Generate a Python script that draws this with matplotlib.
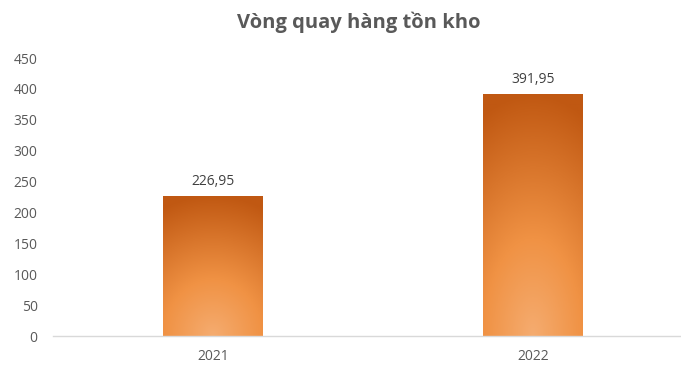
import numpy as np
import matplotlib
matplotlib.use("Agg")
import matplotlib.pyplot as plt
from matplotlib.colors import LinearSegmentedColormap

years = ["2021", "2022"]
values = [226.95, 391.95]
value_labels = ["226,95", "391,95"]
yticks = [0, 50, 100, 150, 200, 250, 300, 350, 400, 450]
title = "Vòng quay hàng tồn kho"

W, H = 681, 365
fig = plt.figure(figsize=(W / 100, H / 100), dpi=100)
ax = fig.add_axes([53 / W, (H - 336) / H, (680 - 53) / W, (336 - 58) / H])

x = np.arange(len(years))
bw = 100 / 320
bars = ax.bar(x, values, width=bw, color="none", edgecolor="none", zorder=2)

cmap = LinearSegmentedColormap.from_list(
    "og", [(0.0, (245/255, 172/255, 112/255)),
           (0.4, (240/255, 146/255, 68/255)),
           (1.0, (192/255, 88/255, 18/255))])
for b in bars:
    x0, y0 = b.get_x(), b.get_y()
    w, h = b.get_width(), b.get_height()
    u = np.linspace(-1, 1, 60)
    v = np.linspace(0, 1, 200)
    U, V = np.meshgrid(u, v)
    D = np.clip(np.sqrt((0.4 * U) ** 2 + V ** 2), 0, 1)
    im = ax.imshow(D, cmap=cmap, origin="lower", aspect="auto",
                   extent=[x0, x0 + w, y0, y0 + h], zorder=2, vmin=0, vmax=1)
    im.set_clip_path(b)

for xi, v, lab in zip(x, values, value_labels):
    ax.annotate(lab, (xi, v), xytext=(0, 5), textcoords="offset points",
                ha="center", va="bottom", fontsize=10, color="#404040",
                family=["Open Sans", "DejaVu Sans"])

ax.set_xlim(-0.5, 1.5 - 13 / 320)
ax.set_ylim(0, 450)
ax.set_yticks(yticks)
ax.set_xticks(x)
ax.set_xticklabels(years)
for s in ["top", "right", "left"]:
    ax.spines[s].set_visible(False)
ax.spines["bottom"].set_color("#D9D9D9")
ax.spines["bottom"].set_linewidth(1)
ax.tick_params(axis="both", length=0, labelsize=10, labelcolor="#595959")
ax.tick_params(axis="y", pad=11)
ax.tick_params(axis="x", pad=9)
for t in ax.get_xticklabels() + ax.get_yticklabels():
    t.set_family(["Open Sans", "DejaVu Sans"])

fig.text(359 / W, 1 - 22 / H, title, ha="center", va="center", fontsize=14.5,
         fontweight="bold", color="#595959", family=["Open Sans", "DejaVu Sans"])

fig.savefig("out.png", dpi=100)
